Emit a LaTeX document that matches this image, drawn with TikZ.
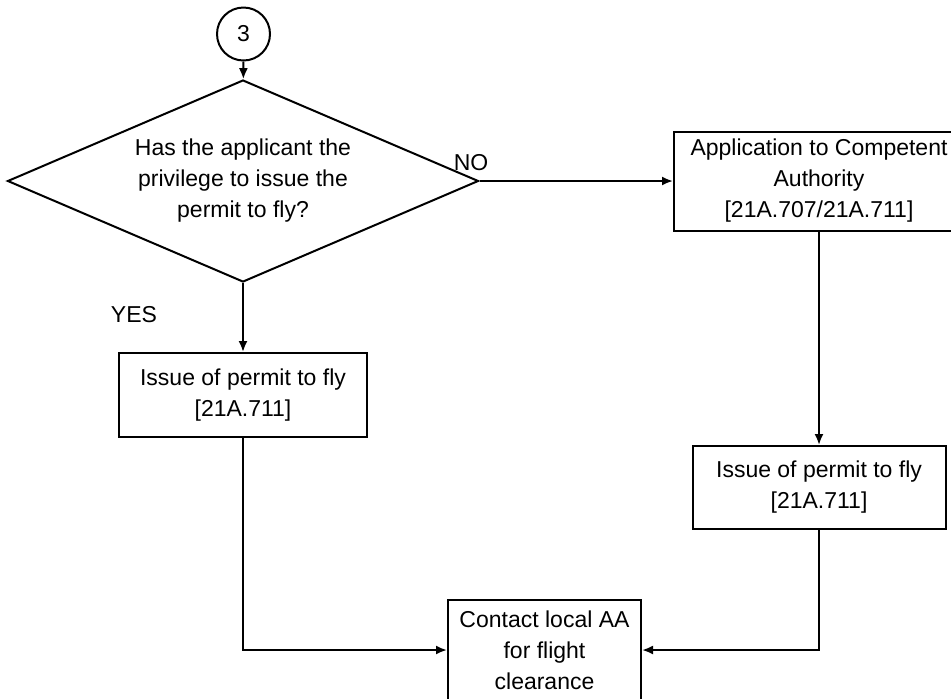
\documentclass[tikz,border=0pt]{standalone}
\usepackage{fontspec}
\setmainfont{Liberation Sans}
\usetikzlibrary{shapes.geometric,arrows.meta}
\begin{document}
\begin{tikzpicture}[x=0.5pt, y=-0.5pt,
    box/.style={draw, line width=1pt, align=center, inner sep=0pt, font=\fontsize{11.5}{15.5}\selectfont},
    lbl/.style={inner sep=0pt, font=\fontsize{11.5}{15.5}\selectfont},
    arr/.style={line width=1pt, -{Latex[length=5.5pt,width=4.5pt]}}]
    \useasboundingbox (0,0) rectangle (951,698);
    % off-page connector and question
    \node[box, circle, minimum size=26.5pt] (three) at (243.5,34) {3};
    \node[box, diamond, aspect=2.33, minimum width=235.5pt, minimum height=101pt] (ask) at (243,181)
        {Has the applicant the\\privilege to issue the\\permit to fly?};
    % boxes
    \node[box, minimum width=145pt, minimum height=49.5pt] (apply) at (819,181)
        {Application to Competent\\Authority\\{[}21A.707/21A.711{]}};
    \node[box, minimum width=124pt, minimum height=42pt] (issueA) at (243,395)
        {Issue of permit to fly\\{[}21A.711{]}};
    \node[box, minimum width=126.5pt, minimum height=41.5pt] (issueB) at (819,487.5)
        {Issue of permit to fly\\{[}21A.711{]}};
    \node[box, minimum width=96.5pt, minimum height=50pt] (contact) at (544.5,650)
        {Contact local AA\\for flight\\clearance};
    \node[lbl] (no) at (471,163) {NO};
    \node[lbl] (yes) at (134,315) {YES};
    % connectors
    \draw[arr] (three) -- (ask);
    \draw[arr] (ask.east) -- (apply.west);
    \draw[arr] (ask.south) -- (issueA.north);
    \draw[arr] (apply.south) -- (issueB.north);
    \draw[arr] (issueA.south) |- (contact.west);
    \draw[arr] (issueB.south) |- (contact.east);
\end{tikzpicture}
\end{document}
